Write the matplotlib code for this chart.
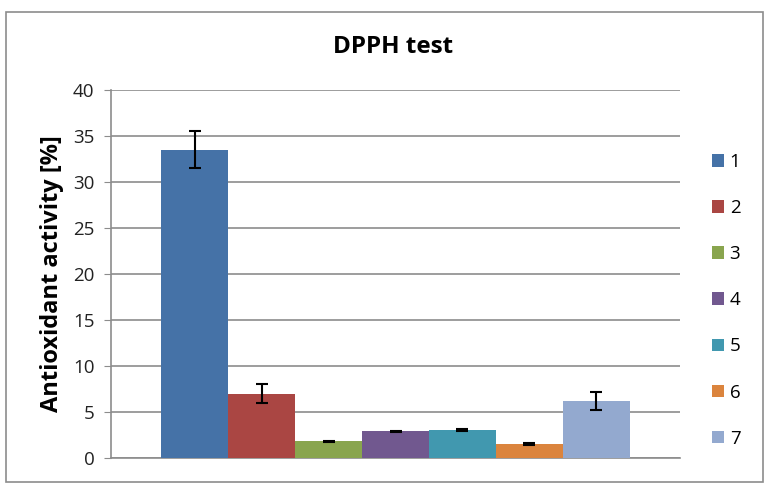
import matplotlib.pyplot as plt
from matplotlib.patches import Rectangle

plt.rcParams['font.family'] = ['Open Sans', 'DejaVu Sans']

samples = ['1', '2', '3', '4', '5', '6', '7']
activity = [33.5, 7.0, 1.8, 2.9, 3.05, 1.5, 6.2]
errors = [2.0, 1.0, 0.1, 0.08, 0.1, 0.08, 1.0]
colors = ['#4572A7', '#AA4643', '#89A54E', '#71588F', '#4198AF', '#DB843D', '#93A9CF']

fig = plt.figure(figsize=(7.69, 4.94), dpi=100)
fig.patches.append(Rectangle((6/769, 12/494), 757/769, 470/494, transform=fig.transFigure,
                             fill=False, edgecolor='#8c8c8c', linewidth=1.2))
ax = fig.add_axes([111/769, 36/494, 569/769, 368/494])

# one bar per sample, drawn side by side like a single clustered group
for i in range(len(samples)):
    ax.bar(i, activity[i], width=1.0, color=colors[i], label=samples[i], zorder=3,
           yerr=errors[i], capsize=4.5, error_kw=dict(ecolor='black', elinewidth=1.5, capthick=1.5, zorder=4))

ax.set_xlim(-1.25, 7.25)
ax.set_ylim(0, 40)
ax.set_yticks(range(0, 41, 5))
ax.set_xticks([])
ax.yaxis.grid(True, color='#8c8c8c', linewidth=1.2, zorder=0)
for s in ['top', 'right']:
    ax.spines[s].set_visible(False)
ax.spines['left'].set_color('#8c8c8c')
ax.spines['bottom'].set_color('#8c8c8c')
ax.spines['left'].set_linewidth(1.2)
ax.spines['bottom'].set_linewidth(1.2)
ax.tick_params(axis='y', length=5, color='#8c8c8c', labelsize=13.5, pad=7, labelcolor='#222222')

ax.set_ylabel('Antioxidant activity [%]', fontsize=17, fontweight='bold', labelpad=6)
fig.text(393/769, 1 - 47/494, 'DPPH test', ha='center', va='center', fontsize=17.5, fontweight='bold')

fig.legend(loc='upper left', bbox_to_anchor=(695/769, 1 - 136/494), frameon=False, fontsize=13.5,
           handlelength=0.65, handleheight=0.65, labelspacing=1.5, handletextpad=0.3)

fig.savefig('out.png', dpi=100)
